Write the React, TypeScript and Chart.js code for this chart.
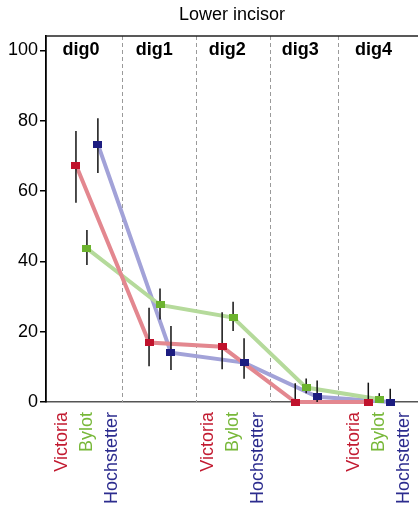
import React, { useEffect, useRef } from "react";
import { Chart, registerables } from "chart.js";

Chart.register(...registerables);

const groups = ["dig0", "dig1", "dig2", "dig3", "dig4"];
const species = ["Victoria", "Bylot", "Hochstetter"];
const labelGroups = [0, 2, 4];
const groupBounds = [0.48, 1.49, 2.5, 3.44];
const yTicks = [0, 20, 40, 60, 80, 100];

const victoria = [67.4, 16.9, 15.7, 0, 0];
const victoriaLow = [56.7, 10.2, 9.3, 0, 0];
const victoriaHigh = [77.1, 26.8, 25.5, 5.3, 5.5];

const bylot = [43.7, 27.6, 24.0, 4.1, 0.8];
const bylotLow = [39.0, 23.5, 20.2, 2.5, 0];
const bylotHigh = [48.9, 32.3, 28.5, 6.7, 2.5];

const hochstetter = [73.3, 14.0, 11.2, 1.5, 0];
const hochstetterLow = [65.1, 9.1, 6.6, 0, 0];
const hochstetterHigh = [80.7, 21.6, 18.1, 6.1, 3.8];

const title = "Lower incisor";

const markerColors = ["#c0122c", "#6cb32e", "#1c1c80"];
const lineColors = ["#e3878f", "#b5da9b", "#a2a2d8"];
const labelColors = ["#c21a30", "#78b83a", "#2c2c8e"];
const speciesOffset = [-0.15, 0, 0.15];
const labelOffset = [-0.34, 0, 0.34];

const values = [victoria, bylot, hochstetter];
const lows = [victoriaLow, bylotLow, hochstetterLow];
const highs = [victoriaHigh, bylotHigh, hochstetterHigh];

const FONT = "'Liberation Sans', Arial, Helvetica, sans-serif";

function makeMarker(color: string) {
  const c = document.createElement("canvas");
  c.width = 9;
  c.height = 7;
  const ctx = c.getContext("2d")!;
  ctx.fillStyle = color;
  ctx.fillRect(0, 0, 9, 7);
  return c;
}

export default function App() {
  const ref = useRef<HTMLCanvasElement | null>(null);

  useEffect(() => {
    if (!ref.current) return;

    const pts = (s: number) =>
      values[s].map((v, i) => ({ x: i + speciesOffset[s], y: v }));

    const markerSets = species.map((name, s) => ({
      label: name + " markers",
      data: pts(s),
      showLine: false,
      pointStyle: makeMarker(markerColors[s]) as any,
      pointRadius: 4,
      borderWidth: 0,
      clip: false as any,
    }));
    const lineSets = species.map((name, s) => ({
      label: name,
      data: pts(s),
      borderColor: lineColors[s],
      borderWidth: 4,
      pointRadius: 0,
      tension: 0,
      clip: false as any,
    }));

    const labelTicks: { value: number; label: string; s: number }[] = [];
    labelGroups.forEach((g) => {
      species.forEach((name, s) => {
        labelTicks.push({ value: g + labelOffset[s], label: name, s });
      });
    });

    const decor = {
      id: "decor",
      beforeDatasetsDraw(chart: any) {
        const { ctx, chartArea, scales } = chart;
        ctx.save();
        ctx.strokeStyle = "#9a9a9a";
        ctx.lineWidth = 1;
        ctx.setLineDash([4, 3]);
        groupBounds.forEach((b) => {
          const x = Math.round(scales.x.getPixelForValue(b)) + 0.5;
          ctx.beginPath();
          ctx.moveTo(x, chartArea.top);
          ctx.lineTo(x, chartArea.bottom);
          ctx.stroke();
        });
        ctx.setLineDash([]);
        ctx.strokeStyle = "#222";
        ctx.lineWidth = 1.5;
        ctx.beginPath();
        ctx.moveTo(chartArea.left, chartArea.top);
        ctx.lineTo(chartArea.right, chartArea.top);
        ctx.stroke();
        ctx.fillStyle = "#000";
        ctx.font = "bold 18px " + FONT;
        ctx.textAlign = "center";
        ctx.textBaseline = "middle";
        groups.forEach((g, i) => {
          ctx.fillText(
            g,
            scales.x.getPixelForValue(i - 0.08),
            scales.y.getPixelForValue(100)
          );
        });
        ctx.font = "18px " + FONT;
        ctx.fillText(title, (chartArea.left + chartArea.right) / 2, 15);
        ctx.restore();
      },
      afterDatasetDraw(chart: any, args: any) {
        if (args.index !== 3) return;
        const { ctx, scales } = chart;
        ctx.save();
        ctx.strokeStyle = "#111";
        ctx.lineWidth = 1.5;
        species.forEach((_, s) => {
          values[s].forEach((_v, i) => {
            const x = scales.x.getPixelForValue(i + speciesOffset[s]);
            ctx.beginPath();
            ctx.moveTo(x, scales.y.getPixelForValue(lows[s][i]));
            ctx.lineTo(x, scales.y.getPixelForValue(highs[s][i]));
            ctx.stroke();
          });
        });
        ctx.restore();
      },
    };

    const chart = new Chart(ref.current, {
      type: "line",
      data: { datasets: [...markerSets, ...lineSets] as any },
      options: {
        animation: false,
        responsive: true,
        maintainAspectRatio: false,
        layout: {
          autoPadding: false,
          padding: { top: 36, right: 0, left: 0, bottom: 0 },
        },
        plugins: {
          legend: { display: false },
          tooltip: { enabled: false },
          title: { display: false },
        },
        scales: {
          x: {
            type: "linear",
            min: -0.56,
            max: 4.53,
            grid: { display: false, drawTicks: false },
            border: { display: true, color: "#555", width: 1.5 },
            afterBuildTicks: (scale: any) => {
              scale.ticks = labelTicks.map((t) => ({ value: t.value }));
            },
            afterFit: (scale: any) => {
              scale.height = 107;
              scale.paddingLeft = 0;
              scale.paddingRight = 0;
            },
            ticks: {
              autoSkip: false,
              minRotation: 90,
              maxRotation: 90,
              padding: 10,
              font: { family: FONT, size: 18 },
              color: (c: any) => labelColors[labelTicks[c.index]?.s ?? 0],
              callback: (_v: any, i: number) => labelTicks[i]?.label ?? "",
            },
          },
          y: {
            type: "linear",
            min: 0,
            max: 104.1,
            afterBuildTicks: (scale: any) => {
              scale.ticks = yTicks.map((v) => ({ value: v }));
            },
            afterFit: (scale: any) => {
              scale.width = 46;
              scale.paddingTop = 0;
              scale.paddingBottom = 0;
            },
            grid: {
              display: true,
              drawOnChartArea: false,
              drawTicks: true,
              tickLength: 6,
              color: "#000",
              lineWidth: 1.5,
            },
            border: { display: true, color: "#000", width: 1.8 },
            ticks: {
              padding: 2,
              font: { family: FONT, size: 18 },
              color: "#000",
              includeBounds: false,
            },
          },
        },
      },
      plugins: [decor],
    });

    return () => chart.destroy();
  }, []);

  return (
    <div
      style={{
        position: "absolute",
        left: 0,
        top: 0,
        width: 418,
        height: 509,
        background: "#fff",
      }}
    >
      <canvas ref={ref} />
    </div>
  );
}
